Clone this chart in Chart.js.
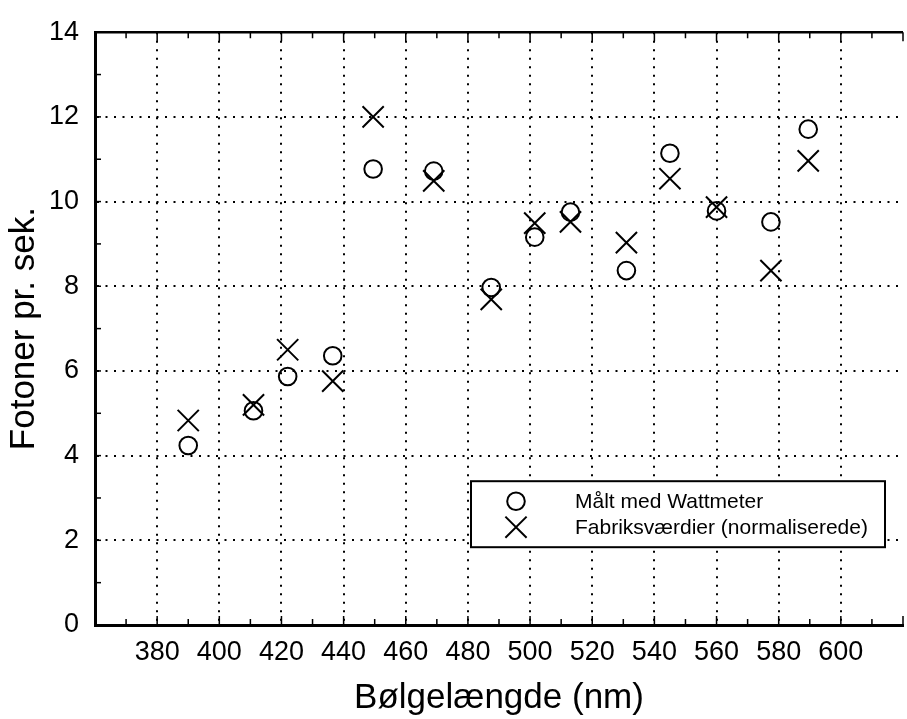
<!DOCTYPE html>
<html>
<head>
<meta charset="utf-8">
<script src="https://cdn.jsdelivr.net/npm/chart.js@4/dist/chart.umd.min.js"></script>
<style>
  html, body { margin: 0; padding: 0; background: #fff; overflow: hidden; }
  canvas { display: block; }
</style>
</head>
<body>
<canvas id="c" width="920" height="719"></canvas>
<script>
// data
const wavelengths = [390, 411, 422, 436.5, 449.5, 469, 487.5, 501.5, 513, 531, 545, 560, 577.5, 589.5];
const maaltWatt   = [4.24, 5.06, 5.87, 6.36, 10.77, 10.72, 7.97, 9.16, 9.75, 8.37, 11.14, 9.78, 9.52, 11.71];
const fabrik      = [4.83, 5.20, 6.50, 5.76, 12.00, 10.49, 7.69, 9.49, 9.52, 9.03, 10.54, 9.87, 8.37, 10.96];
const xTicks = [380, 400, 420, 440, 460, 480, 500, 520, 540, 560, 580, 600];
const yTicks = [0, 2, 4, 6, 8, 10, 12, 14];
const seriesNames = ['Målt med Wattmeter', 'Fabriksværdier (normaliserede)'];

const FONT = '"Liberation Sans", Arial, Helvetica, sans-serif';

const toPoints = vals => vals.map((v, i) => ({ x: wavelengths[i], y: v }));

// ticks inward, top frame, and legend box
const framePlugin = {
  id: 'frame',
  afterDraw(chart) {
    const { ctx, chartArea: a, scales: { x, y } } = chart;
    ctx.save();
    ctx.strokeStyle = '#000';
    // top frame
    ctx.lineWidth = 2.5;
    ctx.beginPath();
    ctx.moveTo(a.left, a.top);
    ctx.lineTo(a.right, a.top);
    ctx.stroke();
    // x ticks every 10 (bottom and top)
    ctx.lineWidth = 1.5;
    for (let v = 370; v <= 620; v += 10) {
      const px = x.getPixelForValue(v);
      const len = v % 20 === 0 ? 9 : 6;
      ctx.beginPath();
      ctx.moveTo(px, a.bottom); ctx.lineTo(px, a.bottom - len);
      ctx.moveTo(px, a.top); ctx.lineTo(px, a.top + len);
      ctx.stroke();
    }
    // y ticks every 1
    for (let v = 1; v < 14; v++) {
      const py = y.getPixelForValue(v);
      ctx.beginPath();
      ctx.moveTo(a.left, py); ctx.lineTo(a.left + 6, py);
      ctx.stroke();
    }
    // legend
    const lx = a.left + 376, ly = a.top + 449, lw = 414, lh = 66;
    ctx.fillStyle = '#fff';
    ctx.fillRect(lx, ly, lw, lh);
    ctx.lineWidth = 2;
    ctx.strokeRect(lx, ly, lw, lh);
    const ds = chart.data.datasets;
    ctx.font = '21px ' + FONT;
    ctx.textBaseline = 'middle';
    [20, 46].forEach((dy, i) => {
      const d = ds[i];
      ctx.lineWidth = d.borderWidth;
      ctx.fillStyle = 'rgba(0,0,0,0)';
      Chart.helpers.drawPoint(ctx, {
        pointStyle: d.pointStyle, radius: d.pointRadius, borderWidth: d.borderWidth
      }, lx + 45, ly + dy);
      ctx.fillStyle = '#000';
      ctx.fillText(seriesNames[i], lx + 104, ly + dy + 1);
    });
    ctx.restore();
  }
};

new Chart(document.getElementById('c'), {
  type: 'scatter',
  data: {
    datasets: [
      {
        label: seriesNames[0],
        data: toPoints(maaltWatt),
        pointStyle: 'circle',
        pointRadius: 8.8,
        borderWidth: 2,
        borderColor: '#000',
        backgroundColor: 'rgba(0,0,0,0)'
      },
      {
        label: seriesNames[1],
        data: toPoints(fabrik),
        pointStyle: 'crossRot',
        pointRadius: 15,
        borderWidth: 2,
        borderColor: '#000',
        backgroundColor: 'rgba(0,0,0,0)'
      }
    ]
  },
  options: {
    responsive: false,
    animation: false,
    devicePixelRatio: 1,
    layout: { padding: { top: 24, right: 2, left: 0, bottom: 0 } },
    plugins: {
      legend: { display: false },
      tooltip: { enabled: false }
    },
    scales: {
      x: {
        type: 'linear',
        min: 360,
        max: 620,
        afterFit: s => { s.height = 94; },
        afterBuildTicks: s => { s.ticks = xTicks.map(v => ({ value: v })); },
        grid: { color: '#000', lineWidth: 2, drawTicks: false },
        border: { display: true, color: '#000', width: 3, dash: [2, 6.5] },
        ticks: { color: '#000', padding: 11, font: { family: FONT, size: 27 } },
        title: {
          display: true,
          text: 'Bølgelængde (nm)',
          color: '#000',
          font: { family: FONT, size: 35 },
          padding: { top: 0, bottom: 0 }
        }
      },
      y: {
        min: 0,
        max: 14,
        afterFit: s => { s.width = 95; },
        afterBuildTicks: s => { s.ticks = yTicks.map(v => ({ value: v })); },
        grid: { color: '#000', lineWidth: 2, drawTicks: false },
        border: { display: true, color: '#000', width: 3, dash: [2, 6.5] },
        ticks: { color: '#000', padding: 16, font: { family: FONT, size: 27 } },
        title: {
          display: true,
          text: 'Fotoner pr. sek.',
          color: '#000',
          font: { family: FONT, size: 35 },
          padding: { top: 3, bottom: 0 }
        }
      }
    }
  },
  plugins: [framePlugin]
});
</script>
</body>
</html>
